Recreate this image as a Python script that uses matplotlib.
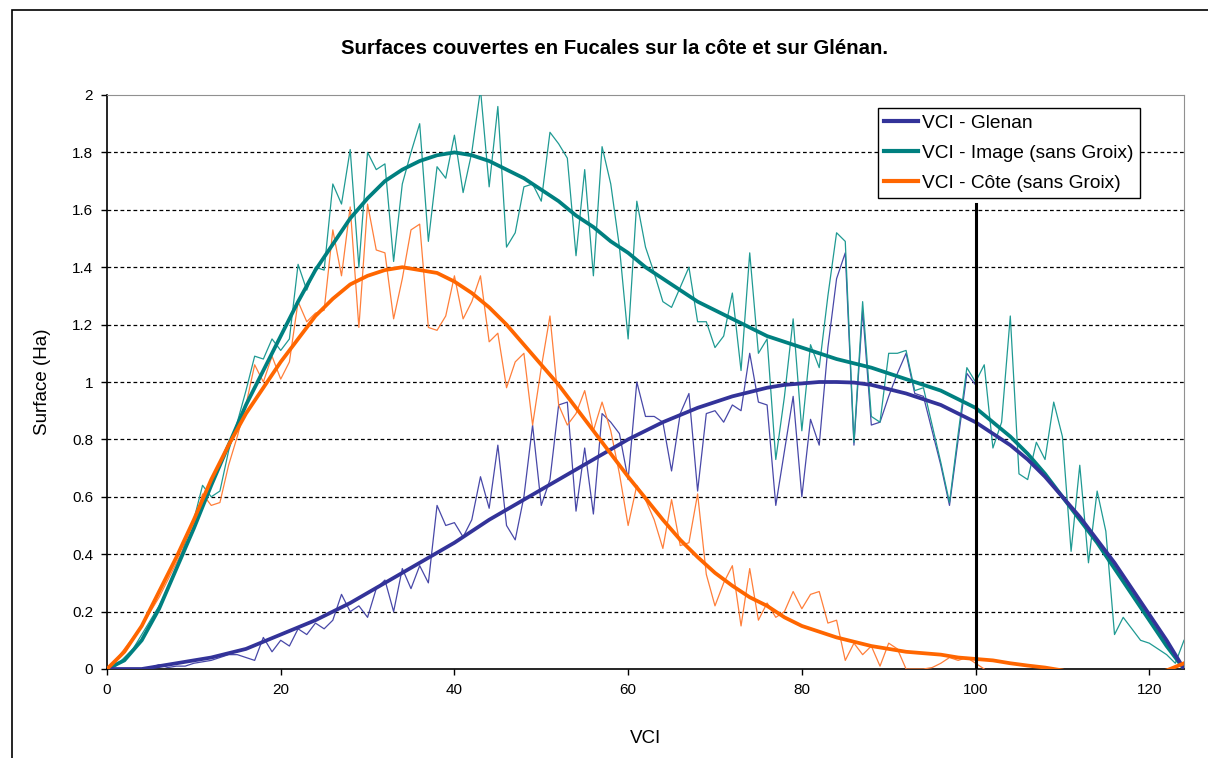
import numpy as np
import matplotlib
matplotlib.use('Agg')
import matplotlib.pyplot as plt
from matplotlib.lines import Line2D
from matplotlib.patches import Rectangle

plt.rcParams['font.family'] = ['Liberation Sans', 'DejaVu Sans']

# raw series, one value per VCI step
vci_image = np.arange(0, 125)
image = [0.00, 0.01, 0.04, 0.07, 0.12, 0.17, 0.22, 0.28, 0.35, 0.44,
         0.52, 0.64, 0.60, 0.62, 0.76, 0.86, 0.97, 1.09, 1.08, 1.15,
         1.11, 1.15, 1.41, 1.32, 1.40, 1.39, 1.69, 1.62, 1.81, 1.40,
         1.80, 1.74, 1.76, 1.42, 1.69, 1.80, 1.90, 1.49, 1.75, 1.71,
         1.86, 1.66, 1.80, 2.02, 1.68, 1.96, 1.47, 1.52, 1.68, 1.69,
         1.63, 1.87, 1.83, 1.78, 1.44, 1.74, 1.37, 1.82, 1.69, 1.47,
         1.15, 1.63, 1.47, 1.38, 1.28, 1.26, 1.33, 1.40, 1.21, 1.21,
         1.12, 1.16, 1.31, 1.04, 1.45, 1.10, 1.15, 0.73, 0.95, 1.22,
         0.83, 1.13, 1.05, 1.30, 1.52, 1.49, 0.79, 1.28, 0.88, 0.86,
         1.10, 1.10, 1.11, 0.97, 0.98, 0.85, 0.72, 0.58, 0.82, 1.05,
         1.00, 1.06, 0.77, 0.86, 1.23, 0.68, 0.66, 0.79, 0.73, 0.93,
         0.81, 0.41, 0.71, 0.37, 0.62, 0.48, 0.12, 0.18, 0.14, 0.10,
         0.09, 0.07, 0.05, 0.02, 0.10]

vci_glenan = np.arange(0, 101)
glenan = [0.00, 0.00, 0.00, 0.00, 0.00, 0.005, 0.015, 0.005, 0.01, 0.01,
          0.02, 0.025, 0.03, 0.04, 0.05, 0.05, 0.04, 0.03, 0.11, 0.06,
          0.10, 0.08, 0.14, 0.12, 0.16, 0.14, 0.17, 0.26, 0.20, 0.22,
          0.18, 0.28, 0.31, 0.20, 0.35, 0.28, 0.36, 0.30, 0.57, 0.50,
          0.51, 0.46, 0.52, 0.67, 0.56, 0.78, 0.50, 0.45, 0.60, 0.85,
          0.57, 0.66, 0.92, 0.93, 0.55, 0.77, 0.54, 0.89, 0.86, 0.82,
          0.66, 1.00, 0.88, 0.88, 0.86, 0.69, 0.89, 0.96, 0.62, 0.89,
          0.90, 0.86, 0.92, 0.90, 1.10, 0.93, 0.92, 0.57, 0.76, 0.95,
          0.60, 0.87, 0.78, 1.12, 1.36, 1.45, 0.78, 1.25, 0.85, 0.86,
          0.95, 1.03, 1.10, 0.96, 0.95, 0.83, 0.71, 0.57, 0.80, 1.03,
          0.99]

vci_cote = np.arange(0, 102)
cote = [0.00, 0.03, 0.07, 0.11, 0.15, 0.20, 0.25, 0.31, 0.37, 0.43,
        0.50, 0.61, 0.57, 0.58, 0.71, 0.81, 0.92, 1.06, 1.00, 1.09,
        1.01, 1.07, 1.28, 1.21, 1.24, 1.25, 1.53, 1.37, 1.61, 1.19,
        1.62, 1.46, 1.45, 1.22, 1.36, 1.53, 1.55, 1.19, 1.18, 1.23,
        1.37, 1.22, 1.28, 1.37, 1.14, 1.17, 0.98, 1.07, 1.10, 0.85,
        1.05, 1.23, 0.92, 0.85, 0.89, 0.97, 0.83, 0.93, 0.83, 0.68,
        0.50, 0.64, 0.59, 0.52, 0.42, 0.59, 0.43, 0.44, 0.61, 0.33,
        0.22, 0.30, 0.36, 0.15, 0.35, 0.17, 0.23, 0.18, 0.20, 0.27,
        0.21, 0.26, 0.27, 0.16, 0.17, 0.03, 0.09, 0.05, 0.08, 0.01,
        0.09, 0.07, 0.00, 0.00, 0.00, 0.005, 0.02, 0.04, 0.03, 0.04,
        0.02, 0.00]

# trend curves, every 2 VCI
vci_fit = np.arange(0, 125, 2)
image_fit = [0.00, 0.03, 0.10, 0.21, 0.35, 0.49, 0.64, 0.78, 0.92, 1.04,
             1.16, 1.28, 1.39, 1.48, 1.57, 1.64, 1.70, 1.74, 1.77, 1.79,
             1.80, 1.79, 1.77, 1.74, 1.71, 1.67, 1.63, 1.58, 1.54, 1.49,
             1.45, 1.40, 1.36, 1.32, 1.28, 1.25, 1.22, 1.19, 1.16, 1.14,
             1.12, 1.10, 1.08, 1.065, 1.05, 1.03, 1.01, 0.99, 0.97, 0.94,
             0.91, 0.86, 0.81, 0.75, 0.68, 0.60, 0.52, 0.44, 0.35, 0.26,
             0.17, 0.08, 0.00]
glenan_fit = [0.00, 0.00, 0.00, 0.01, 0.02, 0.03, 0.04, 0.055, 0.07, 0.095,
              0.12, 0.145, 0.17, 0.20, 0.23, 0.265, 0.30, 0.335, 0.37, 0.405,
              0.44, 0.48, 0.52, 0.555, 0.59, 0.625, 0.66, 0.695, 0.73, 0.765,
              0.80, 0.83, 0.86, 0.885, 0.91, 0.93, 0.95, 0.965, 0.98, 0.99,
              0.995, 1.00, 1.00, 0.998, 0.99, 0.975, 0.96, 0.94, 0.92, 0.89,
              0.86, 0.82, 0.78, 0.73, 0.67, 0.60, 0.53, 0.45, 0.37, 0.28,
              0.19, 0.10, 0.00]
cote_fit = [0.00, 0.06, 0.15, 0.27, 0.39, 0.52, 0.66, 0.78, 0.89, 0.98,
            1.07, 1.15, 1.23, 1.29, 1.34, 1.37, 1.39, 1.40, 1.39, 1.38,
            1.35, 1.31, 1.26, 1.20, 1.13, 1.06, 0.99, 0.91, 0.83, 0.75,
            0.67, 0.595, 0.52, 0.45, 0.39, 0.335, 0.29, 0.25, 0.22, 0.18,
            0.15, 0.13, 0.11, 0.095, 0.08, 0.07, 0.06, 0.055, 0.05, 0.04,
            0.035, 0.03, 0.02, 0.012, 0.005, -0.005, -0.02, -0.025, -0.03, -0.03,
            -0.02, -0.005, 0.02]

seuil = 100
seuil_top = 1.62

labels = ['VCI - Glenan', 'VCI - Image (sans Groix)', 'VCI - Côte (sans Groix)']
c_blue = '#333399'
c_teal = '#008080'
c_orange = '#FF6600'

W, H = 1208, 758
fig = plt.figure(figsize=(W / 100, H / 100), dpi=100)
fig.patches.append(Rectangle((12 / W, -0.05), 1.2, 1 - 10 / H + 0.05,
                             transform=fig.transFigure, fill=False,
                             edgecolor='black', linewidth=1.2))

ax = fig.add_axes([107 / W, 1 - 669 / H, (1184 - 107) / W, (669 - 95) / H])

# thin raw lines
ax.plot(vci_glenan, glenan, color='#4848A8', lw=0.9, zorder=3)
ax.plot(vci_image, image, color='#1F9A93', lw=0.9, zorder=3)
ax.plot(vci_cote, cote, color='#FF7F3A', lw=0.9, zorder=3)

# trend lines
ax.plot(vci_fit, image_fit, color=c_teal, lw=2.7, zorder=4)
ax.plot(vci_fit, glenan_fit, color=c_blue, lw=2.7, zorder=4)
ax.plot(vci_fit, cote_fit, color=c_orange, lw=2.7, zorder=5)

ax.plot([seuil, seuil], [0, seuil_top], color='black', lw=2.2, zorder=6)

ax.set_xlim(0, 124)
ax.set_ylim(0, 2)
ax.set_xticks(range(0, 121, 20))
ax.set_yticks(np.arange(0, 2.01, 0.2))
ax.set_yticklabels(['0', '0.2', '0.4', '0.6', '0.8', '1', '1.2', '1.4', '1.6', '1.8', '2'])
ax.tick_params(labelsize=11, direction='out', length=4, width=1, pad=6)

for y in np.arange(0.2, 1.81, 0.2):
    ax.axhline(y, color='black', lw=0.9, dashes=(3, 2.2), zorder=1)

for s in ['top', 'right']:
    ax.spines[s].set_color('#909090')
for s in ['left', 'bottom']:
    ax.spines[s].set_color('black')
    ax.spines[s].set_linewidth(1.2)

ax.set_xlabel('VCI', fontsize=13.5, labelpad=24)
ax.set_ylabel('Surface (Ha)', fontsize=13.5, labelpad=15)
fig.text(0.509, 1 - 48 / H, 'Surfaces couvertes en Fucales sur la côte et sur Glénan.',
         ha='center', va='center', fontsize=14.7, fontweight='bold')

handles = [Line2D([], [], color=c, lw=3) for c in (c_blue, c_teal, c_orange)]
leg = ax.legend(handles, labels, loc='upper right',
                bbox_to_anchor=((1140 - 107) / 1077, (669 - 108) / 574),
                borderaxespad=0, fontsize=13.8, frameon=True, fancybox=False,
                edgecolor='black', framealpha=1, handlelength=1.75,
                handletextpad=0.25, labelspacing=0.66, borderpad=0.32)
leg.get_frame().set_linewidth(1.0)
leg.set_zorder(10)

fig.savefig('out.png', dpi=100)
